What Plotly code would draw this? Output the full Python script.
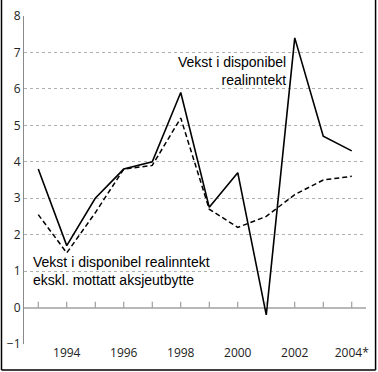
import plotly.graph_objects as go

years = [1993, 1994, 1995, 1996, 1997, 1998, 1999, 2000, 2001, 2002, 2003, 2004]
vekst = [3.8, 1.7, 3.0, 3.8, 4.0, 5.9, 2.75, 3.7, -0.2, 7.4, 4.7, 4.3]
vekst_ekskl = [2.55, 1.5, 2.6, 3.8, 3.9, 5.2, 2.7, 2.2, 2.5, 3.1, 3.5, 3.6]
xtick_vals = [1994, 1996, 1998, 2000, 2002, 2004]
xtick_text = ["1994", "1996", "1998", "2000", "2002", "2004*"]
ytick_vals = [-1, 0, 1, 2, 3, 4, 5, 6, 7, 8]

fig = go.Figure()
fig.add_trace(go.Scatter(x=years, y=vekst, mode="lines",
                         line=dict(color="black", width=1.6), showlegend=False,
                         hoverinfo="skip"))
fig.add_trace(go.Scatter(x=years, y=vekst_ekskl, mode="lines",
                         line=dict(color="black", width=1.5, dash="5px,3px"),
                         showlegend=False, hoverinfo="skip"))

# small upward tick marks on the zero line at every year
tick_x, tick_y = [], []
for yr in years:
    tick_x += [yr, yr, None]
    tick_y += [0, 0.16, None]
fig.add_trace(go.Scatter(x=tick_x, y=tick_y, mode="lines",
                         line=dict(color="#8a8a8a", width=1), showlegend=False,
                         hoverinfo="skip"))

fig.add_annotation(x=2001.78, y=6.5, xref="x", yref="y", text="Vekst i disponibel<br>realinntekt",
                   showarrow=False, xanchor="right", yanchor="middle", align="right",
                   font=dict(family="Liberation Sans, Arial", size=14, color="black"))
fig.add_annotation(x=1992.74, y=0.99, xref="x", yref="y",
                   text="Vekst i disponibel realinntekt<br>ekskl. mottatt aksjeutbytte",
                   showarrow=False, xanchor="left", yanchor="middle", align="left",
                   font=dict(family="Liberation Sans, Arial", size=14, color="black"))

# frame (left, right, bottom)
frame = dict(type="line", xref="paper", yref="paper", line=dict(color="black", width=1.5))
x_left, x_right, y_bot, y_top = -0.0658, 1.028, -0.079, 1.06
fig.add_shape(x0=x_left, x1=x_left, y0=y_bot, y1=y_top, **frame)
fig.add_shape(x0=x_right, x1=x_right, y0=y_bot, y1=y_top, **frame)
fig.add_shape(x0=x_left, x1=x_right, y0=y_bot, y1=y_bot, **frame)

fig.update_layout(
    width=378, height=372,
    margin=dict(l=24, r=12, t=16, b=28, pad=0),
    paper_bgcolor="white", plot_bgcolor="white",
    font=dict(family="Open Sans", size=12, color="black"),
    xaxis=dict(range=[1992.5, 2004.5], tickvals=xtick_vals, ticktext=xtick_text,
               showgrid=False, zeroline=False, showline=False, ticks="",
               automargin=False,
               tickfont=dict(family="Open Sans", size=12, color="#222")),
    yaxis=dict(range=[-1.0001, 8.0001], tickvals=ytick_vals, showgrid=True,
               gridcolor="#b0b0b0", griddash="dot", gridwidth=1,
               zeroline=True, zerolinecolor="#b8b8b8", zerolinewidth=2,
               showline=True, linecolor="#8a8a8a", linewidth=1,
               ticks="", automargin=False,
               tickfont=dict(family="Open Sans", size=12, color="#222")),
)

fig.write_html("out.html", config={"displayModeBar": False},
               post_script="document.body.style.margin='0';")
